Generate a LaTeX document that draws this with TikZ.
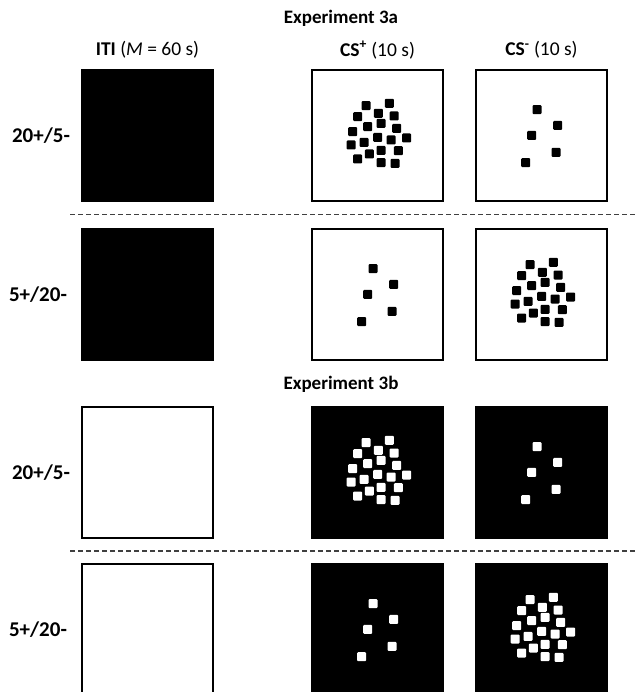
\documentclass[tikz,border=0pt]{standalone}
\usepackage{fontspec}
\setmainfont{Carlito}
\begin{document}
\begin{tikzpicture}[x=1pt,y=-1pt,
  cell/.style={minimum width=131pt, minimum height=131pt, inner sep=0pt, line width=2pt, draw=black},
  darkcell/.style={cell, fill=black},
  lightcell/.style={cell, fill=white},
  bigtitle/.style={font=\bfseries\fontsize{19}{22}\selectfont, inner sep=0pt},
  colhead/.style={font=\fontsize{19.5}{22}\selectfont, inner sep=0pt},
  rowlab/.style={font=\bfseries\fontsize{21}{24}\selectfont, inner sep=0pt},
  element/.style={rounded corners=1pt},
  separator/.style={line width=1.1pt, draw=black!75, dash pattern=on 5pt off 3pt}]
\useasboundingbox (0,0) rectangle (635,692);
\clip (0,0) rectangle (635,692);

% headings
\node[bigtitle] (exa) at (341,18) {Experiment 3a};
\node[bigtitle] (exb) at (341,384) {Experiment 3b};
\node[colhead] (hiti) at (147.5,50) {\textbf{ITI} (\textit{M} = 60 s)};
\node[colhead] (hcsp) at (377.5,50) {\textbf{CS\textsuperscript{+}} (10 s)};
\node[colhead] (hcsm) at (541.5,50) {\textbf{CS\textsuperscript{-}} (10 s)};

% row labels
\node[rowlab] (r1) at (41,135.5) {20+/5-};
\node[rowlab] (r2) at (38,294.5) {5+/20-};
\node[rowlab] (r3) at (41,472.5) {20+/5-};
\node[rowlab] (r4) at (38,629.5) {5+/20-};

% Experiment 3a: dark ITI, light stimulus displays
\node[darkcell]  (a1i) at (147.5,135.5) {};
\node[lightcell] (a1p) at (377.5,135.5) {};
\node[lightcell] (a1m) at (541.5,135.5) {};
\node[darkcell]  (a2i) at (147.5,294.5) {};
\node[lightcell] (a2p) at (377.5,294.5) {};
\node[lightcell] (a2m) at (541.5,294.5) {};

% Experiment 3b: light ITI, dark stimulus displays
\node[lightcell] (b1i) at (147.5,472.5) {};
\node[darkcell]  (b1p) at (377.5,472.5) {};
\node[darkcell]  (b1m) at (541.5,472.5) {};
\node[lightcell] (b2i) at (147.5,629.5) {};
\node[darkcell]  (b2p) at (377.5,629.5) {};
\node[darkcell]  (b2m) at (541.5,629.5) {};

% 20-element arrays (offsets from the display centre)
\foreach \c/\col in {a1p/black, a2m/black, b1p/white, b2m/white}{
  \begin{scope}[shift={(\c.center)}]
    \foreach \dx/\dy in {-11.5/-29.8, 11.8/-32.2, -19.8/-18.8, 0.8/-22.2, 16.5/-19.5,
        -9.8/-8.8, 3.5/-12.2, 19.2/-7.2, -24.8/-3.8, 0.2/1.8,
        13.5/4.5, 29.2/2.5, -26.5/9.5, -13.5/6.8, 3.5/14.8,
        20.8/15.2, -8.2/18.5, -19.8/23.5, 3.5/27.2, 17.5/27.8}
      \fill[\col, element] (\dx-4.5,\dy-4.5) rectangle ++(9,9);
  \end{scope}
}

% 5-element arrays
\foreach \c/\col in {a1m/black, a2p/black, b1m/white, b2p/white}{
  \begin{scope}[shift={(\c.center)}]
    \foreach \dx/\dy in {-4.5/-25.8, 16.2/-10.2, -9.8/-0.2, 14.5/16.8, -15.8/27.2}
      \fill[\col, element] (\dx-4.5,\dy-4.5) rectangle ++(9,9);
  \end{scope}
}

% separators between conditions
\coordinate (s1l) at (70,214.5);
\coordinate (s1r) at (635,214.5);
\coordinate (s2l) at (70,551);
\coordinate (s2r) at (635,551);
\draw[separator] (s1l) -- (s1r);
\draw[separator] (s2l) -- (s2r);
\end{tikzpicture}
\end{document}
